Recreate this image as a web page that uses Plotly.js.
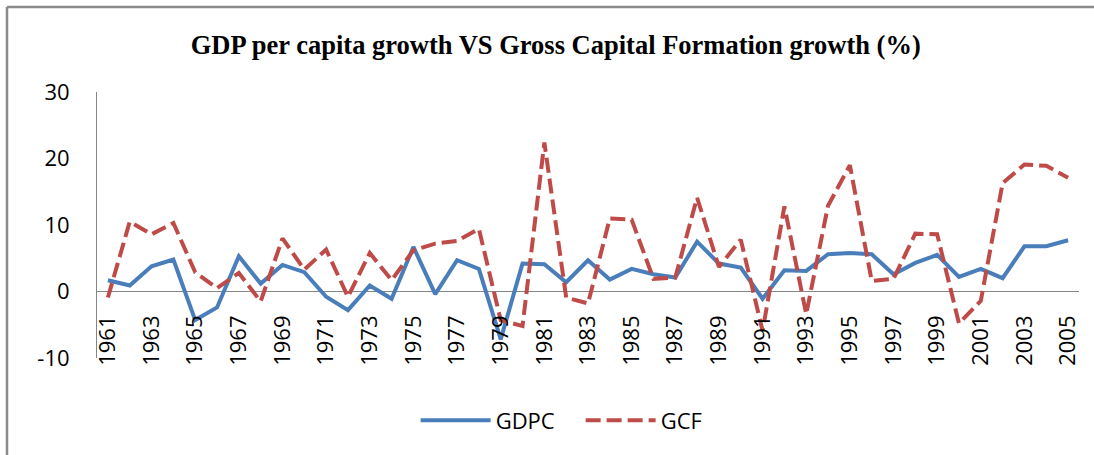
<!DOCTYPE html>
<html>
<head>
<meta charset="utf-8">
<script src="https://cdn.plot.ly/plotly-3.0.1.min.js"></script>
<style>
  html, body { margin: 0; padding: 0; background: #fff; }
  #chart { width: 1094px; height: 455px; }
</style>
</head>
<body>
<div id="chart"></div>
<script>
const years = [1961,1962,1963,1964,1965,1966,1967,1968,1969,1970,1971,1972,1973,1974,1975,1976,1977,1978,1979,1980,1981,1982,1983,1984,1985,1986,1987,1988,1989,1990,1991,1992,1993,1994,1995,1996,1997,1998,1999,2000,2001,2002,2003,2004,2005];
const gdpc = [1.7,0.9,3.8,4.8,-4.3,-2.4,5.3,1.2,4.0,2.9,-0.8,-2.8,0.9,-1.1,6.7,-0.4,4.7,3.4,-7.2,4.2,4.1,1.4,4.7,1.8,3.4,2.6,2.1,7.5,4.2,3.6,-1.1,3.2,3.1,5.6,5.8,5.6,2.6,4.3,5.5,2.2,3.4,2.0,6.8,6.8,7.7];
const gcf = [-0.9,10.5,8.6,10.3,2.9,0.5,2.8,-1.5,8.0,3.3,6.3,-0.8,5.8,1.7,6.2,7.2,7.6,9.4,-4.3,-5.2,22.4,-0.9,-1.8,11.0,10.8,1.9,2.1,14.1,3.7,7.8,-5.9,12.8,-3.4,12.9,19.0,1.6,1.9,8.7,8.6,-4.8,-1.4,16.3,19.1,18.9,17.1];
const tickYears = years.filter((y, i) => i % 2 === 0);
const tickLabels = tickYears.map(String);
const yTicks = [-10, 0, 10, 20, 30];
const chartTitle = 'GDP per capita growth VS Gross Capital Formation growth (%)';
const seriesNames = ['GDPC', 'GCF'];

const traces = [
  { x: years, y: gdpc, name: seriesNames[0], type: 'scatter', mode: 'lines',
    line: { color: '#4A7EBB', width: 4 } },
  { x: years, y: gcf, name: seriesNames[1], type: 'scatter', mode: 'lines',
    line: { color: '#BE4B48', width: 4, dash: '15px,6px' } }
];

const borderX = (7 - 97) / 982;
const borderY = (358 - 7) / 266;

const layout = {
  width: 1094, height: 455,
  margin: { l: 97, r: 15, t: 92, b: 97 },
  paper_bgcolor: '#fff', plot_bgcolor: '#fff',
  font: { family: 'Open Sans, sans-serif', size: 22, color: '#000' },
  title: { text: chartTitle, x: 0.508, xanchor: 'center', y: 0.901, yanchor: 'middle',
    font: { family: 'Liberation Serif, serif', size: 26.5, weight: 'bold', color: '#000' } },
  xaxis: {
    range: [1960.5, 2005.5], tickmode: 'array', tickvals: tickYears, ticktext: tickLabels,
    tickangle: -90, showgrid: false, zeroline: false, showline: false, ticks: '',
    anchor: 'free', position: 0.18, fixedrange: true
  },
  yaxis: {
    range: [-10, 30], tickmode: 'array', tickvals: yTicks, ticktext: yTicks.map(String),
    showgrid: false, showline: true, linecolor: '#868686', linewidth: 1,
    zeroline: true, zerolinecolor: '#868686', zerolinewidth: 1,
    ticks: '', ticklabelstandoff: 22, fixedrange: true
  },
  showlegend: true,
  legend: { orientation: 'h', x: 0.4925, xanchor: 'center', y: -0.235, yanchor: 'middle',
    font: { size: 22, color: '#000' }, itemwidth: 70, traceorder: 'normal',
    entrywidth: 80, entrywidthmode: 'pixels' },
  shapes: [
    { type: 'line', xref: 'paper', yref: 'paper', x0: borderX, x1: borderX, y0: -0.5, y1: borderY,
      line: { color: '#8A8A8A', width: 2.5 } },
    { type: 'line', xref: 'paper', yref: 'paper', x0: borderX, x1: 1.1, y0: borderY, y1: borderY,
      line: { color: '#8A8A8A', width: 2.5 } }
  ]
};

Plotly.newPlot('chart', traces, layout, { displayModeBar: false, staticPlot: true });
</script>
</body>
</html>
